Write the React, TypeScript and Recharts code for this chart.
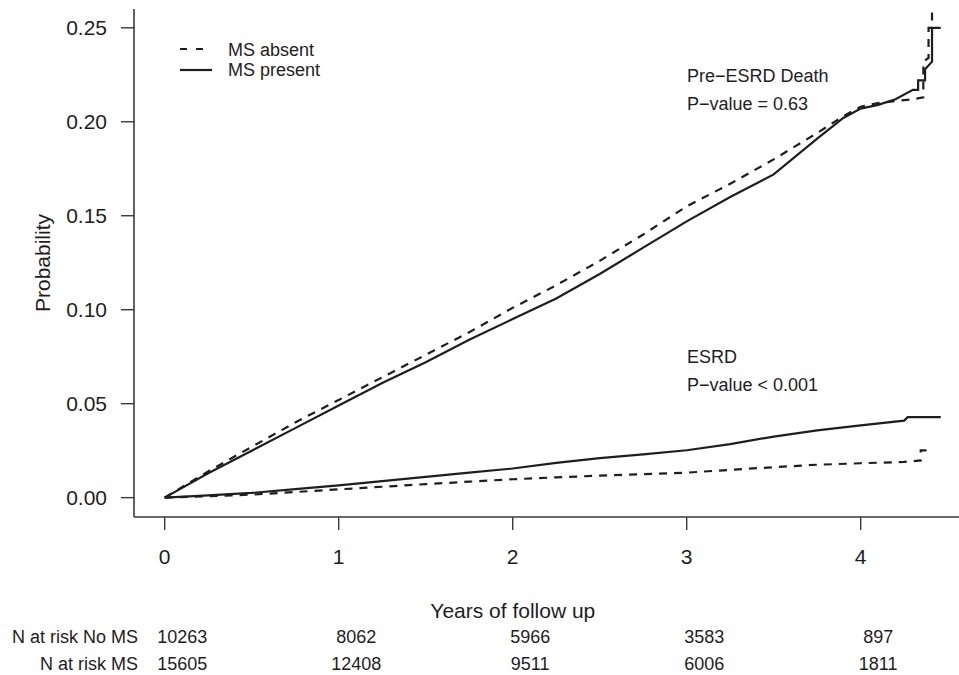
import { LineChart, Line, XAxis, YAxis, Customized } from "recharts";

// cumulative incidence, pre-ESRD death
const deathAbsentT = [0, 0.25, 0.5, 0.75, 1.0, 1.25, 1.5, 1.75, 2.0, 2.25, 2.5, 2.75, 3.0, 3.25, 3.5, 3.75, 3.9, 4.0, 4.1, 4.2, 4.3, 4.36, 4.36, 4.39, 4.39, 4.41, 4.41];
const deathAbsentP = [0, 0.014, 0.027, 0.04, 0.052, 0.064, 0.076, 0.088, 0.101, 0.113, 0.126, 0.14, 0.155, 0.167, 0.18, 0.194, 0.203, 0.208, 0.21, 0.211, 0.212, 0.213, 0.232, 0.234, 0.25, 0.25, 0.27];

const deathPresentT = [0, 0.25, 0.5, 0.75, 1.0, 1.25, 1.5, 1.75, 2.0, 2.25, 2.5, 2.75, 3.0, 3.25, 3.5, 3.75, 3.9, 4.0, 4.1, 4.2, 4.3, 4.33, 4.33, 4.37, 4.37, 4.41, 4.41, 4.46];
const deathPresentP = [0, 0.013, 0.025, 0.037, 0.049, 0.061, 0.072, 0.084, 0.095, 0.106, 0.119, 0.133, 0.147, 0.16, 0.172, 0.191, 0.202, 0.207, 0.209, 0.212, 0.217, 0.217, 0.222, 0.222, 0.228, 0.232, 0.25, 0.25];

// cumulative incidence, ESRD
const esrdAbsentT = [0, 0.25, 0.5, 0.75, 1.0, 1.25, 1.5, 1.75, 2.0, 2.25, 2.5, 2.75, 3.0, 3.25, 3.5, 3.75, 4.0, 4.25, 4.345, 4.345, 4.4];
const esrdAbsentP = [0, 0.0008, 0.0016, 0.003, 0.0044, 0.0058, 0.0072, 0.0085, 0.0098, 0.0108, 0.0117, 0.0125, 0.0133, 0.0148, 0.0162, 0.0175, 0.0183, 0.019, 0.0198, 0.0252, 0.0252];

const esrdPresentT = [0, 0.25, 0.5, 0.75, 1.0, 1.25, 1.5, 1.75, 2.0, 2.25, 2.5, 2.75, 3.0, 3.25, 3.5, 3.75, 4.0, 4.25, 4.27, 4.46];
const esrdPresentP = [0, 0.0012, 0.0025, 0.0045, 0.0065, 0.0088, 0.011, 0.0133, 0.0155, 0.0185, 0.021, 0.023, 0.0252, 0.0285, 0.0325, 0.0358, 0.0385, 0.041, 0.0428, 0.0428];

const xTicks = [0, 1, 2, 3, 4];
const yTicks = [0, 0.05, 0.1, 0.15, 0.2, 0.25];
const riskNoMS = [10263, 8062, 5966, 3583, 897];
const riskMS = [15605, 12408, 9511, 6006, 1811];

const toPoints = (t: number[], p: number[]) => t.map((v, i) => ({ t: v, p: p[i] }));

const FONT = "'Liberation Sans', Arial, Helvetica, sans-serif";
const INK = "#1e1e1e";
const AXIS = "#3a3a3a";
const DASH = "8 7";

const BottomTick = (props: any) => {
  const { x, y, payload } = props;
  const i = xTicks.indexOf(payload.value);
  return (
    <g fontFamily={FONT} fill={INK}>
      <text x={x} y={y + 34} textAnchor="middle" fontSize={21} fill={INK}>
        {payload.value}
      </text>
      <text x={x + 17.5} y={y + 113} textAnchor="middle" fontSize={18} fill={INK}>
        {riskNoMS[i]}
      </text>
      <text x={x + 17.5} y={y + 140} textAnchor="middle" fontSize={18} fill={INK}>
        {riskMS[i]}
      </text>
    </g>
  );
};

const Annotations = () => (
  <g fontFamily={FONT} fill={INK}>
    <line x1={180} x2={205} y1={49} y2={49} stroke={INK} strokeWidth={2.2} strokeDasharray="7 9" />
    <line x1={180} x2={212} y1={70} y2={70} stroke={INK} strokeWidth={2.2} />
    <text x={228} y={56} fontSize={18}>MS absent</text>
    <text x={228} y={76} fontSize={18}>MS present</text>

    <text x={687} y={82} fontSize={18}>Pre−ESRD Death</text>
    <text x={687} y={110} fontSize={18}>P−value = 0.63</text>
    <text x={687} y={363} fontSize={18}>ESRD</text>
    <text x={687} y={391} fontSize={18}>P−value &lt; 0.001</text>

    <text x={512.8} y={618} fontSize={21} textAnchor="middle">Years of follow up</text>
    <text x={50} y={263} fontSize={21} textAnchor="middle" transform="rotate(-90 50 263)">
      Probability
    </text>

    <text x={138} y={643} fontSize={18} textAnchor="end">N at risk No MS</text>
    <text x={138} y={670} fontSize={18} textAnchor="end">N at risk MS</text>
  </g>
);

export default function App() {
  const xDomain = [-0.1764, 4.6282];
  return (
    <div
      style={{
        position: "absolute",
        left: 0,
        top: 0,
        width: 959,
        height: 675,
        overflow: "hidden",
        background: "#fff",
      }}
    >
      <LineChart width={970} height={675} margin={{ top: 9, right: 0, bottom: 0, left: 0 }}>
        <XAxis
          dataKey="t"
          type="number"
          domain={xDomain}
          allowDataOverflow
          ticks={xTicks}
          interval={0}
          height={158}
          tickSize={13}
          tickMargin={0}
          tick={<BottomTick />}
          axisLine={{ stroke: AXIS, strokeWidth: 1.6 }}
          tickLine={{ stroke: AXIS, strokeWidth: 1.4 }}
        />
        <XAxis
          xAxisId="top"
          orientation="top"
          dataKey="t"
          type="number"
          domain={xDomain}
          allowDataOverflow
          height={0}
          tick={false}
          tickLine={false}
          axisLine={{ stroke: AXIS, strokeWidth: 1.6 }}
        />
        <YAxis
          type="number"
          domain={[-0.0103, 0.26]}
          allowDataOverflow
          ticks={yTicks}
          interval={0}
          width={134}
          tickSize={13}
          tickMargin={14}
          tickFormatter={(v: number) => v.toFixed(2)}
          tick={{ fontSize: 21, fill: INK, fontFamily: FONT }}
          axisLine={{ stroke: AXIS, strokeWidth: 1.6 }}
          tickLine={{ stroke: AXIS, strokeWidth: 1.4 }}
        />
        <Line
          data={toPoints(deathAbsentT, deathAbsentP)}
          dataKey="p"
          type="linear"
          stroke={INK}
          strokeWidth={2.2}
          strokeDasharray={DASH}
          dot={false}
          activeDot={false}
          isAnimationActive={false}
        />
        <Line
          data={toPoints(deathPresentT, deathPresentP)}
          dataKey="p"
          type="linear"
          stroke={INK}
          strokeWidth={2.2}
          dot={false}
          activeDot={false}
          isAnimationActive={false}
        />
        <Line
          data={toPoints(esrdAbsentT, esrdAbsentP)}
          dataKey="p"
          type="linear"
          stroke={INK}
          strokeWidth={2.2}
          strokeDasharray={DASH}
          dot={false}
          activeDot={false}
          isAnimationActive={false}
        />
        <Line
          data={toPoints(esrdPresentT, esrdPresentP)}
          dataKey="p"
          type="linear"
          stroke={INK}
          strokeWidth={2.2}
          dot={false}
          activeDot={false}
          isAnimationActive={false}
        />
        <Customized component={Annotations} />
      </LineChart>
    </div>
  );
}
